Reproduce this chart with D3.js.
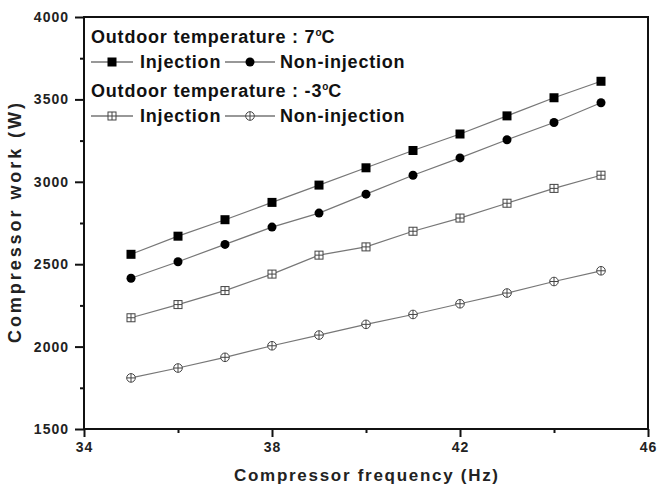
<!DOCTYPE html>
<html>
<head>
<meta charset="utf-8">
<script src="https://cdn.jsdelivr.net/npm/d3@7"></script>
<style>
  body { margin: 0; background: #fff; }
  svg { display: block; font-family: "Liberation Sans", Arial, sans-serif; }
  .tick text { font-size: 14px; font-weight: bold; letter-spacing: 1px; fill: #222; }
  .legend text { font-size: 18px; font-weight: bold; letter-spacing: 0.8px; fill: #111; }
</style>
</head>
<body>
<div id="chart"></div>
<script>
// data
const frequency = [35, 36, 37, 38, 39, 40, 41, 42, 43, 44, 45];
const injection7 = [2560, 2670, 2770, 2875, 2980, 3085, 3190, 3290, 3400, 3510, 3610];
const nonInjection7 = [2415, 2515, 2620, 2725, 2810, 2925, 3040, 3145, 3255, 3360, 3480];
const injectionM3 = [2175, 2255, 2340, 2440, 2555, 2605, 2700, 2780, 2870, 2960, 3040];
const nonInjectionM3 = [1810, 1870, 1935, 2005, 2070, 2135, 2195, 2260, 2325, 2395, 2460];
const xTicks = [34, 38, 42, 46];
const xMinorTicks = [36, 40, 44];
const yTicks = [1500, 2000, 2500, 3000, 3500, 4000];
const yMinorTicks = [1750, 2250, 2750, 3250, 3750];

const series = [
  {name: 'Injection', temp: '7', values: injection7, marker: 'fsquare'},
  {name: 'Non-injection', temp: '7', values: nonInjection7, marker: 'fcircle'},
  {name: 'Injection', temp: '-3', values: injectionM3, marker: 'osquare'},
  {name: 'Non-injection', temp: '-3', values: nonInjectionM3, marker: 'ocircle'}
];

const width = 665, height = 486;
const margin = {top: 17, right: 17, bottom: 57, left: 84};

const svg = d3.select('#chart').append('svg')
    .attr('width', width)
    .attr('height', height);

const x = d3.scaleLinear().domain([34, 46]).range([margin.left, width - margin.right]);
const y = d3.scaleLinear().domain([1500, 4000]).range([height - margin.bottom, margin.top]);

// axes
const xAxis = d3.axisBottom(x).tickValues(xTicks).tickSize(8).tickPadding(5).tickFormat(d3.format('d'));
const yAxis = d3.axisLeft(y).tickValues(yTicks).tickSize(9).tickPadding(6).tickFormat(d3.format('d'));

svg.append('g')
    .attr('transform', `translate(0,${y(1500)})`)
    .call(d3.axisBottom(x).tickValues(xMinorTicks).tickSize(4).tickFormat(''))
    .call(g => g.select('.domain').remove())
    .selectAll('line').attr('stroke', '#111').attr('stroke-width', 2);

svg.append('g')
    .attr('transform', `translate(${x(34)},0)`)
    .call(d3.axisLeft(y).tickValues(yMinorTicks).tickSize(4).tickFormat(''))
    .call(g => g.select('.domain').remove())
    .selectAll('line').attr('stroke', '#111').attr('stroke-width', 2);

const xg = svg.append('g')
    .attr('transform', `translate(0,${y(1500)})`)
    .call(xAxis);
const yg = svg.append('g')
    .attr('transform', `translate(${x(34)},0)`)
    .call(yAxis);

[xg, yg].forEach(g => {
  g.select('.domain').remove();
  g.selectAll('line').attr('stroke', '#111').attr('stroke-width', 2);
});

// frame
svg.append('rect')
    .attr('x', x(34))
    .attr('y', y(4000))
    .attr('width', x(46) - x(34))
    .attr('height', y(1500) - y(4000))
    .attr('fill', 'none')
    .attr('stroke', '#111')
    .attr('stroke-width', 2);

// axis titles
svg.append('text')
    .attr('transform', `translate(21,${(y(1500) + y(4000)) / 2}) rotate(-90)`)
    .attr('text-anchor', 'middle')
    .attr('textLength', 240)
    .attr('lengthAdjust', 'spacing')
    .style('font-size', '18px')
    .style('font-weight', 'bold')
    .attr('fill', '#222')
    .text('Compressor work (W)');

svg.append('text')
    .attr('x', (x(34) + x(46)) / 2)
    .attr('y', 481)
    .attr('text-anchor', 'middle')
    .attr('textLength', 264)
    .attr('lengthAdjust', 'spacing')
    .style('font-size', '17px')
    .style('font-weight', 'bold')
    .attr('fill', '#222')
    .text('Compressor frequency (Hz)');

// markers
function drawMarker(g, type, cx, cy) {
  const s = 4.5;
  if (type === 'fsquare') {
    g.append('rect').attr('x', cx - s).attr('y', cy - s).attr('width', 2 * s).attr('height', 2 * s)
        .attr('fill', '#000');
  } else if (type === 'fcircle') {
    g.append('circle').attr('cx', cx).attr('cy', cy).attr('r', s).attr('fill', '#000');
  } else if (type === 'osquare') {
    const r = 4;
    g.append('rect').attr('x', cx - r).attr('y', cy - r).attr('width', 2 * r).attr('height', 2 * r)
        .attr('fill', '#fff').attr('stroke', '#444').attr('stroke-width', 1);
    g.append('path').attr('d', `M${cx - r},${cy}H${cx + r}M${cx},${cy - r}V${cy + r}`)
        .attr('stroke', '#444').attr('stroke-width', 1);
  } else {
    const r = 4.3;
    g.append('circle').attr('cx', cx).attr('cy', cy).attr('r', r)
        .attr('fill', '#fff').attr('stroke', '#444').attr('stroke-width', 1);
    g.append('path').attr('d', `M${cx - r},${cy}H${cx + r}M${cx},${cy - r}V${cy + r}`)
        .attr('stroke', '#444').attr('stroke-width', 1);
  }
}

const line = d3.line()
    .x((d, i) => x(frequency[i]))
    .y(d => y(d));

series.forEach(s => {
  svg.append('path')
      .datum(s.values)
      .attr('d', line)
      .attr('fill', 'none')
      .attr('stroke', '#777')
      .attr('stroke-width', 1.2);
  const mg = svg.append('g');
  s.values.forEach((v, i) => drawMarker(mg, s.marker, x(frequency[i]), y(v)));
});

// legend
const legend = svg.append('g').attr('class', 'legend');
const temps = ['7', '-3'];
temps.forEach((t, k) => {
  const top = 43 + k * 54;
  const title = legend.append('text').attr('x', 91).attr('y', top);
  title.append('tspan').text(`Outdoor temperature : ${t}`);
  title.append('tspan').attr('dy', -7).style('font-size', '10px').style('letter-spacing', '0px').text('o');
  title.append('tspan').attr('dy', 7).text('C');

  const items = series.filter(s => s.temp === t);
  const rowY = top + 19;
  const lineX = [[91, 133], [225, 275]];
  const textX = [140, 280];
  items.forEach((s, j) => {
    legend.append('line')
        .attr('x1', lineX[j][0]).attr('x2', lineX[j][1])
        .attr('y1', rowY).attr('y2', rowY)
        .attr('stroke', '#333').attr('stroke-width', 1.2);
    drawMarker(legend, s.marker, (lineX[j][0] + lineX[j][1]) / 2, rowY);
    legend.append('text').attr('x', textX[j]).attr('y', rowY + 6).text(s.name);
  });
});
</script>
</body>
</html>
